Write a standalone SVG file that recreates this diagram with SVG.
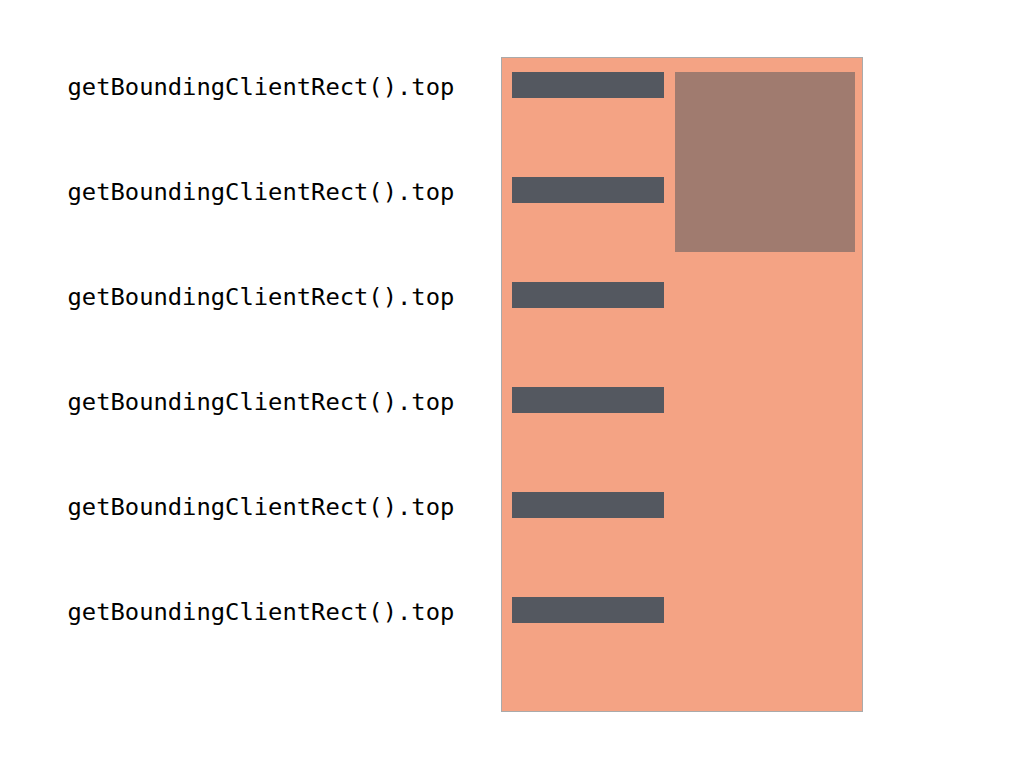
<svg xmlns="http://www.w3.org/2000/svg" width="1024" height="768" viewBox="0 0 1024 768">
<style>
.lbl{font-family:"DejaVu Sans Mono","Liberation Mono",monospace;font-size:23.8px;fill:#000}
.bar{fill:#545860}
</style>
<rect width="1024" height="768" fill="#fff"/>
<g id="panel"><rect x="501.5" y="57.5" width="361" height="654" fill="#f4a384" stroke="#aaaaaa" stroke-width="1"/></g>
<g id="box"><rect x="675" y="72" width="180" height="180" fill="#a07b6f"/></g>
<g id="bars">
<rect class="bar" x="512" y="72" width="152" height="26"/>
<rect class="bar" x="512" y="177" width="152" height="26"/>
<rect class="bar" x="512" y="282" width="152" height="26"/>
<rect class="bar" x="512" y="387" width="152" height="26"/>
<rect class="bar" x="512" y="492" width="152" height="26"/>
<rect class="bar" x="512" y="597" width="152" height="26"/>
</g>
<g id="labels">
<text class="lbl" x="67.5" y="94.5">getBoundingClientRect().top</text>
<text class="lbl" x="67.5" y="199.5">getBoundingClientRect().top</text>
<text class="lbl" x="67.5" y="304.5">getBoundingClientRect().top</text>
<text class="lbl" x="67.5" y="409.5">getBoundingClientRect().top</text>
<text class="lbl" x="67.5" y="514.5">getBoundingClientRect().top</text>
<text class="lbl" x="67.5" y="619.5">getBoundingClientRect().top</text>
</g>
<g id="connectors"></g>
</svg>
